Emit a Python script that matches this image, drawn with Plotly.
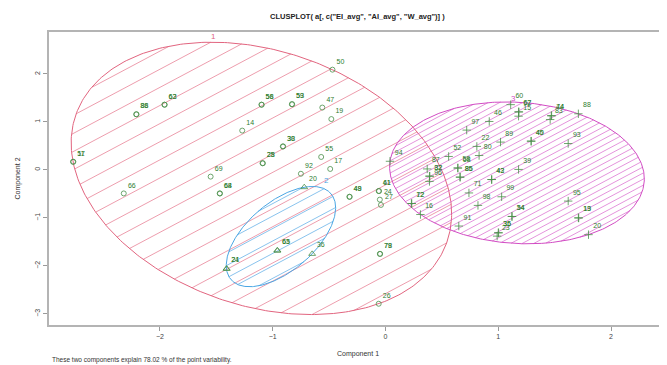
import numpy as np
import plotly.graph_objects as go

# ---------------- data ----------------
title_text = 'CLUSPLOT( a[, c("EI_avg", "AI_avg", "W_avg")] )'
x_title = "Component 1"
y_title = "Component 2"
footnote = "These two components explain 78.02 % of the point variability."
cluster_names = ["1", "2", "3"]
x_ticks = [-2, -1, 0, 1, 2]
y_ticks = [-3, -2, -1, 0, 1, 2]

c1_x = [-2.770, -2.767, -2.210, -2.207, -1.960, -1.957, -1.100, -1.097, -0.830, -0.827,
        -0.560, -0.480, -0.470, -1.270, -0.910, -0.907, -1.090, -1.087, -0.570, -0.490,
        -0.750, -1.550, -2.320, -1.470, -1.467, -0.320, -0.317, -0.060, -0.057, -0.050,
        -0.040, -0.050, -0.047, -0.060]
c1_y = [0.170, 0.169, 1.160, 1.159, 1.360, 1.359, 1.360, 1.359, 1.370, 1.369,
        1.300, 1.060, 2.090, 0.820, 0.490, 0.489, 0.140, 0.139, 0.270, 0.020,
        -0.080, -0.140, -0.490, -0.490, -0.491, -0.560, -0.561, -0.440, -0.441, -0.620,
        -0.730, -1.750, -1.751, -2.790]
c1_lab = ["57", "11", "86", "88", "62", "63", "56", "58", "59", "53",
          "47", "19", "50", "14", "30", "38", "25", "28", "55", "17",
          "92", "69", "66", "68", "64", "48", "49", "41", "61", "24",
          "27", "79", "78", "26"]

c2_x = [-0.720, -0.960, -0.957, -0.650, -1.410, -1.407]
c2_y = [-0.360, -1.680, -1.681, -1.750, -2.060, -2.061]
c2_lab = ["20", "63", "65", "36", "24", "21"]

c3_x = [1.110, 1.180, 1.183, 1.180, 1.470, 1.473, 1.460, 1.710, 0.920, 0.720,
        0.810, 0.830, 1.020, 1.290, 1.293, 1.620, 0.560, 0.040, 0.640, 0.643,
        0.660, 0.663, 0.370, 0.390, 0.393, 0.390, 0.940, 0.943, 1.180, 0.740,
        1.030, 0.820, 0.230, 0.233, 0.310, 0.650, 1.000, 1.003, 0.990, 1.120,
        1.123, 1.620, 1.710, 1.713, 1.800]
c3_y = [1.360, 1.210, 1.209, 1.120, 1.130, 1.129, 1.050, 1.170, 1.010, 0.830,
        0.490, 0.300, 0.580, 0.600, 0.599, 0.550, 0.280, 0.180, 0.040, 0.039,
        -0.150, -0.151, 0.020, -0.130, -0.131, -0.240, -0.200, -0.201, 0.010, -0.480,
        -0.560, -0.740, -0.700, -0.701, -0.930, -1.170, -1.310, -1.311, -1.380, -0.970,
        -0.971, -0.650, -1.000, -1.001, -1.350]
c3_lab = ["60", "62", "67", "15", "44", "74", "83", "88", "46", "97",
          "22", "80", "89", "45", "40", "93", "52", "94", "58", "68",
          "85", "86", "87", "82", "32", "96", "43", "42", "39", "71",
          "99", "98", "12", "72", "16", "91", "35", "36", "23", "34",
          "54", "95", "13", "19", "20"]

# ---------------- layout geometry / styles ----------------
# the page body has an 8px default margin, so the figure is sized to fit the window
W, H = 659, 357
MARG = dict(l=41, r=1, t=24, b=40)
XR = [-2.983, 2.487]
YR = [-3.233, 2.875]
PW = W - MARG["l"] - MARG["r"]
PH = H - MARG["t"] - MARG["b"]
SX = PW / (XR[1] - XR[0])
SY = PH / (YR[1] - YR[0])

clus_cols = ["#e2657f", "#4aa6e4", "#d24cc4"]
hatch_cols = ["rgba(226,100,126,0.8)", "rgba(70,160,226,0.8)", "rgba(210,76,196,0.75)"]
hatch_space = [16.0, 11.0, 5.4]   # pixels
hatch_angle = 28.0
symbols = ["circle-open", "triangle-up-open", "cross-thin-open"]
sizes = [5, 6, 6]
clabel_shift = [(2, 3), (14, 3), (7, 1)]   # pixel offsets of the cluster labels
pt_col = "#4a8f4a"
txt_col = "#2f7d2f"
FONT = "Liberation Sans, Arial, sans-serif"


def mvee(P, tol=1e-10):
    """Minimum-volume enclosing ellipse (Khachiyan)."""
    P = np.asarray(P, float)
    N, d = P.shape
    Q = np.vstack([P.T, np.ones(N)])
    u = np.full(N, 1.0 / N)
    for _ in range(50000):
        X = (Q * u) @ Q.T
        Mv = np.einsum("ij,ij->j", Q, np.linalg.solve(X, Q))
        j = int(np.argmax(Mv))
        step = (Mv[j] - d - 1) / ((d + 1) * (Mv[j] - 1))
        nu = (1 - step) * u
        nu[j] += step
        done = np.linalg.norm(nu - u) < tol
        u = nu
        if done:
            break
    c = P.T @ u
    S = (P.T * u) @ P - np.outer(c, c)
    A = np.linalg.inv(S) / d
    D = P - c
    m = np.max(np.einsum("ij,jk,ik->i", D, A, D))
    A = A / m
    w, V = np.linalg.eigh(A)
    L = V @ np.diag(1 / np.sqrt(w))
    return c, L


def hatch(c, L, spacing, angle):
    S = np.diag([SX, -SY])
    Mx = S @ L
    Minv = np.linalg.inv(Mx)
    Sinv = np.linalg.inv(S)
    th = np.radians(angle)
    dvec = np.array([np.cos(th), -np.sin(th)])
    nvec = np.array([np.sin(th), np.cos(th)])
    ext = np.linalg.norm(Mx.T @ nvec)
    xs, ys = [], []
    a = Minv @ dvec
    for off in np.arange(-np.floor(ext / spacing) * spacing, ext, spacing):
        p0 = off * nvec
        b = Minv @ p0
        A2, B2, C2 = a @ a, 2 * a @ b, b @ b - 1
        disc = B2 * B2 - 4 * A2 * C2
        if disc <= 0:
            continue
        r = np.sqrt(disc)
        for t in ((-B2 - r) / (2 * A2), (-B2 + r) / (2 * A2)):
            q = c + Sinv @ (p0 + t * dvec)
            xs.append(q[0]); ys.append(q[1])
        xs.append(None); ys.append(None)
    return xs, ys


fig = go.Figure()
clusters = [(c1_x, c1_y, c1_lab), (c2_x, c2_y, c2_lab), (c3_x, c3_y, c3_lab)]
tt = np.linspace(0, 2 * np.pi, 361)
label_pos = []
for i, (cx, cy, lab) in enumerate(clusters):
    c, L = mvee(np.column_stack([cx, cy]))
    hx, hy = hatch(c, L, hatch_space[i], hatch_angle)
    fig.add_trace(go.Scatter(x=hx, y=hy, mode="lines", hoverinfo="skip",
                             line=dict(color=hatch_cols[i], width=0.8), showlegend=False))
    E = c[:, None] + L @ np.vstack([np.cos(tt), np.sin(tt)])
    fig.add_trace(go.Scatter(x=E[0], y=E[1], mode="lines", hoverinfo="skip",
                             line=dict(color=clus_cols[i], width=1.0), showlegend=False))
    top = c + L @ (L[1] / np.linalg.norm(L[1]))
    label_pos.append(top)

for i, (cx, cy, lab) in enumerate(clusters):
    fig.add_trace(go.Scatter(
        x=cx, y=cy, mode="markers+text", text=lab, textposition="top right",
        textfont=dict(size=7, color=txt_col, family=FONT),
        marker=dict(symbol=symbols[i], size=sizes[i], color=pt_col,
                    line=dict(color=pt_col, width=0.8)),
        showlegend=False, cliponaxis=False))

annotations = []
for i, top in enumerate(label_pos):
    annotations.append(dict(
        text=cluster_names[i], x=top[0], y=top[1], xref="x", yref="y",
        xanchor="center", yanchor="bottom", showarrow=False,
        xshift=clabel_shift[i][0], yshift=clabel_shift[i][1] - 4,
        font=dict(size=8, color=clus_cols[i], family=FONT)))

axis_common = dict(showgrid=False, zeroline=False, showline=True, mirror=True,
                   automargin=False,
                   linecolor="#b4b4b4", linewidth=1.5, ticks="outside", ticklen=4,
                   tickcolor="#9a9a9a", tickwidth=1,
                   tickfont=dict(size=7, color="#444444", family=FONT))
annotations += [
    dict(text="<b>" + title_text + "</b>", xref="paper", yref="paper",
         x=0.5, y=1 + 16 / PH, xanchor="center", yanchor="middle", showarrow=False,
         font=dict(size=7.5, color="#222222", family=FONT)),
    dict(text=x_title, xref="paper", yref="paper", x=0.5, y=-29 / PH,
         xanchor="center", yanchor="middle", showarrow=False,
         font=dict(size=7, color="#333333", family=FONT)),
    dict(text=y_title, xref="paper", yref="paper", x=-32 / PW, y=0.5, textangle=-90,
         xanchor="center", yanchor="middle", showarrow=False,
         font=dict(size=7, color="#333333", family=FONT)),
    dict(text=footnote, xref="paper", yref="paper", x=1 / PW, y=-35 / PH,
         xanchor="left", yanchor="middle", showarrow=False,
         font=dict(size=6.5, color="#333333", family=FONT)),
]
fig.update_layout(
    width=W, height=H, margin=MARG, paper_bgcolor="white", plot_bgcolor="white",
    font=dict(family=FONT),
    xaxis=dict(range=XR, tickvals=x_ticks, **axis_common),
    yaxis=dict(range=YR, tickvals=y_ticks, tickangle=-90, **axis_common),
    annotations=annotations,
)
fig.write_html("out.html")
